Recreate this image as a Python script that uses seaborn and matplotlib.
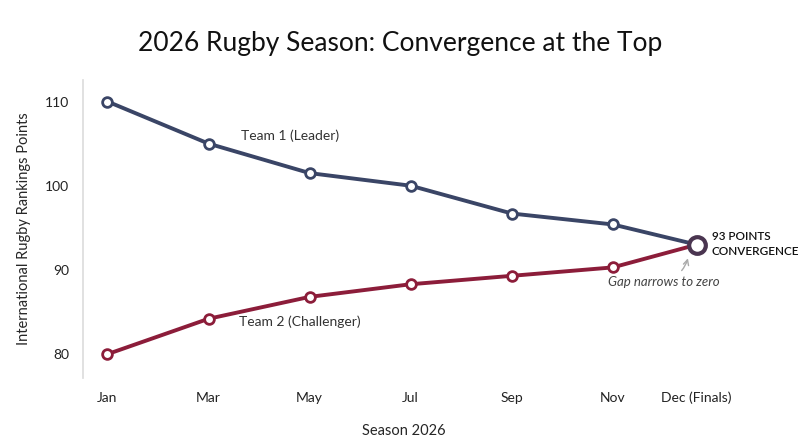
import matplotlib
matplotlib.use("Agg")
import matplotlib.pyplot as plt
import seaborn as sns
import pandas as pd

months = ["Jan", "Mar", "May", "Jul", "Sep", "Nov", "Dec (Finals)"]
month_pos = [0, 1, 2, 3, 4, 5, 5.83]
team1 = [110, 105, 101.5, 100, 96.7, 95.4, 93]
team2 = [80, 84.2, 86.8, 88.3, 89.3, 90.3, 93]

sns.set_theme(style="white")
plt.rcParams["font.family"] = ["Lato", "DejaVu Sans"]

navy = "#3a4566"
maroon = "#8c1d3a"

fig, ax = plt.subplots(figsize=(8, 4.47), dpi=100)
fig.subplots_adjust(left=0.104, right=0.905, top=0.82, bottom=0.155)

for vals, color in [(team1, navy), (team2, maroon)]:
    d = pd.DataFrame({"pos": month_pos, "points": vals})
    sns.lineplot(data=d, x="pos", y="points", color=color, linewidth=2.8,
                 marker="o", markersize=7, markerfacecolor="white",
                 markeredgecolor=color, markeredgewidth=2, ax=ax)
ax.plot(month_pos[-1], team1[-1], "o", markersize=12, markerfacecolor="white",
        markeredgecolor="#4a3550", markeredgewidth=3, zorder=5)

ax.set_xlim(-0.24, 6.1)
ax.set_ylim(77.2, 112.5)
ax.set_xticks(month_pos)
ax.set_xticklabels(months)
ax.set_yticks([80, 90, 100, 110])
ax.tick_params(labelsize=10, colors="#222222", length=0, pad=10)
for s in ["top", "right", "bottom"]:
    ax.spines[s].set_visible(False)
ax.spines["left"].set_color("#dddddd")

ax.set_xlabel("Season 2026", fontsize=10.5, labelpad=14)
ax.set_ylabel("International Rugby Rankings Points", fontsize=10.5, labelpad=10)
fig.suptitle("2026 Rugby Season: Convergence at the Top", fontsize=19,
             y=0.93, color="#111111")

ax.text(1.32, 105.4, "Team 1 (Leader)", fontsize=10, color="#333333")
ax.text(1.3, 83.3, "Team 2 (Challenger)", fontsize=10, color="#333333")
ax.text(5.98, 93.6, "93 POINTS", fontsize=8.5, color="#111111", fontweight="semibold")
ax.text(5.98, 91.8, "CONVERGENCE", fontsize=8.5, color="#111111", fontweight="semibold")
ax.annotate("Gap narrows to zero", xy=(5.75, 91.7), xytext=(5.5, 88.1),
            fontsize=9.5, style="italic", color="#444444", ha="center",
            arrowprops=dict(arrowstyle="->", color="#aaaaaa",
                            connectionstyle="arc3,rad=0.3"))

fig.savefig("out.png", dpi=100)
